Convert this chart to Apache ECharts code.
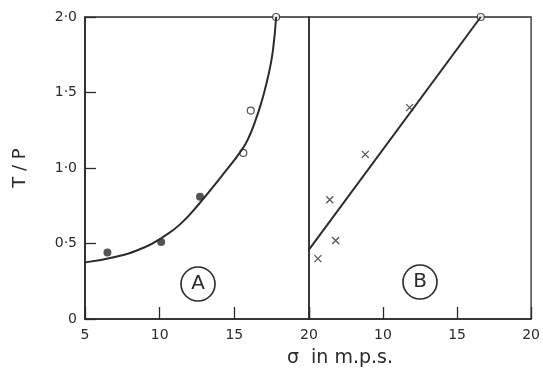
<!DOCTYPE html>
<html><head><meta charset="utf-8">
<script src="https://cdn.jsdelivr.net/npm/echarts@6/dist/echarts.min.js"></script>
<style>html,body{margin:0;padding:0;background:#fff}#c{width:543px;height:378px}</style>
</head><body><div id="c"></div>
<script>
// Panel A: fitted curve and observations
const curveA = [[5,0.375],[7,0.41],[9,0.475],[10.1,0.535],[11.4,0.63],[12.7,0.77],[14.1,0.94],[15.5,1.12],[16.0,1.21],[16.4,1.31],[16.8,1.43],[17.1,1.54],[17.4,1.67],[17.6,1.79],[17.8,2.0]];
const filledA = [[6.5,0.44],[10.1,0.51],[12.7,0.81]];
const openA = [[15.6,1.10],[16.1,1.38],[17.8,2.0]];
// Panel B: straight line and observations
const lineB = [[5,0.46],[16.6,2.0]];
const crossesB = [[5.6,0.40],[6.8,0.52],[6.4,0.79],[8.8,1.09],[11.8,1.40]];
const topB = [[16.6,2.0]];
// Tick labels
const yTicks = {0:'0',0.5:'0·5',1:'1·0',1.5:'1·5',2:'2·0'};
const xTicksA = {5:'5',10:'10',15:'15',20:'20'};
const xTicksB = {5:'',10:'10',15:'15',20:'20'};

const ink = '#2b2b2b';
const font = 'DejaVu Sans';
const chart = echarts.init(document.getElementById('c'));
const crossPath = 'path://M0,0L10,10M10,0L0,10';
chart.setOption({
  backgroundColor:'#fff',
  animation:false,
  grid:[
    {left:85,right:234,top:17,bottom:59,show:true,borderColor:ink,borderWidth:1.6,backgroundColor:'transparent'},
    {left:309,right:11,top:17,bottom:59,show:true,borderColor:ink,borderWidth:1.3,backgroundColor:'transparent'}
  ],
  xAxis:[
    {gridIndex:0,type:'value',min:5,max:20,interval:5,
     axisLine:{lineStyle:{color:ink,width:1.6}},
     axisTick:{inside:true,length:12,lineStyle:{color:ink,width:1.3}},
     splitLine:{show:false},
     axisLabel:{formatter:v=>xTicksA[v]??'',color:ink,fontFamily:font,fontSize:14,margin:9}},
    {gridIndex:1,type:'value',min:5,max:20,interval:5,
     axisLine:{lineStyle:{color:ink,width:1.6}},
     axisTick:{inside:true,length:12,lineStyle:{color:ink,width:1.3}},
     splitLine:{show:false},
     axisLabel:{formatter:v=>xTicksB[v]??'',color:ink,fontFamily:font,fontSize:14,margin:9}}
  ],
  yAxis:[
    {gridIndex:0,type:'value',min:0,max:2,interval:0.5,
     name:'T / P',nameLocation:'middle',nameGap:56,nameRotate:90,
     nameTextStyle:{color:ink,fontFamily:font,fontSize:18},
     axisLine:{lineStyle:{color:ink,width:1.6}},
     axisTick:{inside:true,length:11,lineStyle:{color:ink,width:1.3}},
     splitLine:{show:false},
     axisLabel:{formatter:v=>yTicks[v]??'',color:ink,fontFamily:font,fontSize:14,margin:8}},
    {gridIndex:1,type:'value',min:0,max:2,interval:0.5,
     axisLine:{show:false},axisTick:{show:false},axisLabel:{show:false},splitLine:{show:false}}
  ],
  series:[
    {type:'line',xAxisIndex:0,yAxisIndex:0,data:curveA,smooth:0.5,showSymbol:false,
     lineStyle:{color:ink,width:2}},
    {type:'scatter',xAxisIndex:0,yAxisIndex:0,data:filledA,symbol:'circle',symbolSize:8,
     itemStyle:{color:ink}},
    {type:'scatter',xAxisIndex:0,yAxisIndex:0,data:openA,symbol:'circle',symbolSize:7,
     itemStyle:{color:'#fff',borderColor:ink,borderWidth:1.2}},
    {type:'line',xAxisIndex:1,yAxisIndex:1,data:lineB,showSymbol:false,
     lineStyle:{color:ink,width:2}},
    {type:'scatter',xAxisIndex:1,yAxisIndex:1,data:crossesB,symbol:crossPath,symbolSize:7,
     itemStyle:{color:'none',borderColor:ink,borderWidth:1.3}},
    {type:'scatter',xAxisIndex:1,yAxisIndex:1,data:topB,symbol:'circle',symbolSize:7,
     itemStyle:{color:'#fff',borderColor:ink,borderWidth:1.2}}
  ],
  graphic:[
    {type:'circle',shape:{cx:198,cy:284,r:17},style:{fill:'none',stroke:ink,lineWidth:1.6}},
    {type:'text',x:198,y:284,style:{text:'A',fill:ink,font:'20px '+font,align:'center',verticalAlign:'middle'}},
    {type:'circle',shape:{cx:420,cy:282,r:17},style:{fill:'none',stroke:ink,lineWidth:1.6}},
    {type:'text',x:420,y:282,style:{text:'B',fill:ink,font:'20px '+font,align:'center',verticalAlign:'middle'}},
    {type:'text',x:340,y:358,style:{text:'σ  in m.p.s.',fill:ink,font:'19px '+font,align:'center',verticalAlign:'middle'}}
  ]
});
</script></body></html>
